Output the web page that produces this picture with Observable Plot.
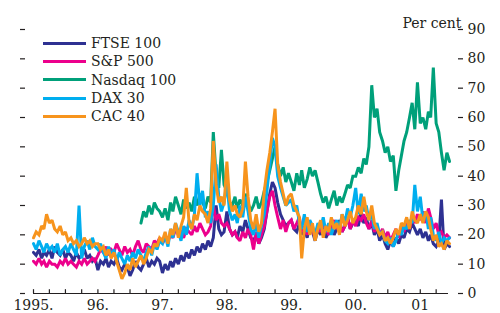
<!DOCTYPE html>
<html><head><meta charset="utf-8">
<script src="https://cdn.jsdelivr.net/npm/d3@7"></script>
<script src="https://cdn.jsdelivr.net/npm/@observablehq/plot@0.6"></script>
<style>
body{margin:0;background:#fff;}
#chart{position:relative;width:500px;height:313px;font-family:"DejaVu Serif",serif;}
#legend{position:absolute;left:43px;top:34px;font-size:14px;color:#231f20;}
.row{display:flex;align-items:center;height:18.3px;white-space:nowrap;}
.sw{width:43px;height:3px;margin-right:5px;}
</style></head><body><div id="chart"></div>
<script>
// Semi-monthly readings (1st and 16th of each month), Jan 1995 - Jun 2001, per cent
const seriesNames = ["FTSE 100", "S&P 500", "Nasdaq 100", "DAX 30", "CAC 40"];
const seriesColors = ["#2e3192", "#ec008c", "#00a07a", "#00aeef", "#f7941d"];
const yearLabels = ["1995.", "96.", "97.", "98.", "99.", "00.", "01"];
const yTicks = [0, 10, 20, 30, 40, 50, 60, 70, 80, 90];

const ftse = [
  14,13,15,12,14,13,15,12,16,14,13,15,12,14,13,11,14,12,13,15,12,13,11,12,
  8,11,10,12,9,11,10,12,9,8,10,9,6,8,11,9,8,10,12,9,11,10,12,11,
  7,10,8,11,9,12,10,13,11,14,12,15,13,16,14,17,15,18,16,19,30,22,20,21,
  28,22,20,21,19,23,21,25,22,19,18,20,17,19,22,28,34,38,36,31,27,25,23,24,
  25,22,21,24,20,22,19,23,21,18,22,20,23,19,21,24,20,22,25,21,23,26,22,24,
  25,23,28,24,26,22,24,20,22,18,20,17,15,18,16,19,17,20,19,22,21,24,22,20,
  22,19,21,18,20,17,16,18,32,15,17,16
];
const sp500 = [
  11,10,12,10,11,9,11,10,10,9,11,10,12,10,11,10,9,11,10,12,10,11,12,11,
  13,15,14,16,13,15,14,17,15,13,16,14,15,13,16,18,15,14,17,16,15,18,17,19,
  17,19,18,20,19,22,20,21,19,22,21,20,23,21,24,22,20,21,23,30,25,27,24,23,
  24,22,20,21,19,18,21,19,22,20,15,21,17,20,23,28,33,35,30,26,22,25,21,24,
  25,22,24,26,21,23,20,24,22,19,23,21,24,22,20,23,25,22,24,21,23,26,22,25,
  23,26,25,27,24,22,25,21,23,20,22,19,21,18,20,22,19,23,21,24,22,26,24,27,
  25,28,24,29,26,22,24,20,21,19,20,19
];
const nasdaq = [
  null,null,null,null,null,null,null,null,null,null,null,null,null,null,null,null,null,null,null,null,null,null,null,null,
  null,null,null,null,null,null,null,null,null,null,null,null,null,null,null,null,24,28,26,30,27,31,29,28,
  26,29,25,31,28,33,30,27,32,29,31,28,33,30,34,31,29,33,31,55,40,36,49,37,
  35,31,30,33,29,32,30,34,31,28,30,33,29,31,35,38,42,46,50,44,40,43,38,41,
  38,35,41,37,42,36,39,43,40,42,38,34,31,33,29,32,35,30,33,31,34,37,36,40,
  40,43,41,46,44,50,71,60,63,55,52,48,50,45,47,35,42,47,52,55,60,65,56,72,
  58,60,56,62,60,77,58,55,48,42,48,45
];
const dax = [
  17,15,18,16,14,17,15,16,14,17,13,15,16,14,17,15,13,30,12,16,18,15,19,16,
  15,17,14,12,16,13,15,11,14,12,10,13,11,14,12,15,13,11,14,16,13,17,15,18,
  17,20,16,22,19,24,21,18,23,20,25,22,27,41,30,35,26,28,24,30,44,33,28,31,
  38,28,25,27,24,30,26,33,28,22,20,24,19,23,27,35,44,53,50,40,36,33,30,31,
  32,28,30,24,22,27,21,25,23,20,24,22,26,21,24,20,23,25,22,27,24,29,26,30,
  36,27,34,28,30,25,27,22,24,20,21,18,17,19,16,18,21,20,23,22,25,24,37,28,
  33,25,28,22,26,20,18,21,17,19,18,19
];
const cac = [
  19,21,20,23,22,27,24,25,22,21,23,20,21,18,19,17,18,16,17,19,17,18,16,17,
  17,15,16,13,15,12,14,11,8,5,7,10,8,12,9,11,13,10,12,15,14,17,16,19,
  18,21,17,22,20,24,19,23,26,36,24,22,27,25,30,28,27,24,29,52,37,31,33,30,
  45,32,28,30,27,26,29,45,33,25,22,27,21,24,35,42,48,55,63,44,38,34,30,33,
  34,30,28,26,12,22,26,20,24,18,22,25,19,23,21,26,22,24,20,27,23,25,28,24,
  26,30,27,33,28,25,30,24,22,20,21,18,19,17,19,22,20,24,23,26,22,28,25,24,
  27,24,28,26,22,18,20,16,17,15,18,17
];

const allValues = [ftse, sp500, nasdaq, dax, cac];
const dates = d3.range(ftse.length).map(i => new Date(Date.UTC(1995, Math.floor(i / 2), i % 2 ? 16 : 1)));

const yearTicks = d3.utcYear.range(new Date(Date.UTC(1995,0,1)), new Date(Date.UTC(2002,0,1)));
const quarterTicks = d3.utcMonth.every(3).range(new Date(Date.UTC(1995,0,1)), new Date(Date.UTC(2001,5,2)));
const labelFor = new Map(yearTicks.map((d, i) => [d.getUTCFullYear(), yearLabels[i]]));

const lineMarks = allValues.map((vals, k) =>
  Plot.line(dates.map((d, i) => ({date: d, v: vals[i]})), {
    x: "date", y: "v", stroke: seriesColors[k], strokeWidth: 3, strokeLinejoin: "miter", strokeMiterlimit: 2
  })
);

const ink = "#231f20";
const chart = Plot.plot({
  width: 500, height: 313,
  marginLeft: 33, marginRight: 52, marginTop: 29, marginBottom: 20,
  style: {fontFamily: '"DejaVu Serif", serif', fontSize: "14px", color: ink, background: "white", overflow: "visible"},
  x: {type: "utc", domain: [new Date(Date.UTC(1995,0,1)), new Date(Date.UTC(2001,5,10))]},
  y: {domain: [0, 90], label: null},
  marks: [
    ...lineMarks,
    Plot.ruleY([0], {stroke: ink, strokeWidth: 1.2}),
    Plot.ruleX(quarterTicks, {x: d => d, y1: 0, y2: 1.3, stroke: ink, strokeWidth: 1.2}),
    Plot.axisX({ticks: yearTicks, tickSize: 0, tickPadding: 7, tickFormat: d => labelFor.get(d.getUTCFullYear()), fontSize: 14, label: null}),
    Plot.axisY({anchor: "left", ticks: yTicks, tickSize: 5, dx: -8, tickFormat: () => "", label: null, stroke: ink, strokeWidth: 1.2}),
    Plot.axisY({anchor: "right", ticks: yTicks, tickSize: 5, tickPadding: 5, dx: 9, label: null, fontSize: 14, stroke: ink, strokeWidth: 1.2}),
    Plot.text(["Per cent"], {frameAnchor: "top-right", dx: 13, dy: -11, textAnchor: "end", fontSize: 14, fill: ink})
  ]
});

const root = document.getElementById("chart");
root.appendChild(chart);
const legend = document.createElement("div");
legend.id = "legend";
seriesNames.forEach((name, k) => {
  const row = document.createElement("div");
  row.className = "row";
  const sw = document.createElement("span");
  sw.className = "sw";
  sw.style.background = seriesColors[k];
  const label = document.createElement("span");
  label.textContent = name;
  row.appendChild(sw);
  row.appendChild(label);
  legend.appendChild(row);
});
root.appendChild(legend);
</script>
</body></html>
